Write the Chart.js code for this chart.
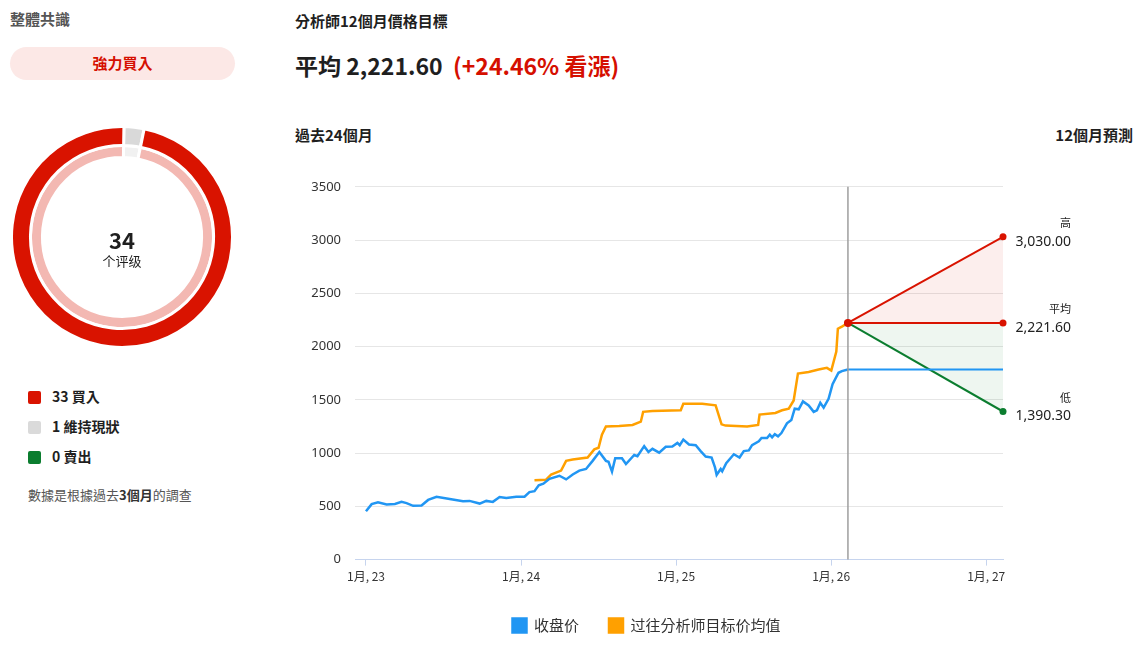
<!DOCTYPE html>
<html><head><meta charset="utf-8">
<script src="https://cdn.jsdelivr.net/npm/chart.js@4"></script>
<style>
body{margin:0;width:1141px;height:649px;background:#fff;font-family:"Noto Sans CJK TC","Noto Sans",sans-serif;position:relative;overflow:hidden;color:#1f1f1f}
.abs{position:absolute}
</style></head><body>
<div class="abs" style="left:10px;top:8px;font-size:15px;font-weight:700;color:#555">整體共識</div>
<div class="abs" style="left:10px;top:47px;width:225px;height:33px;border-radius:17px;background:#fce8e6;color:#d50f00;font-weight:700;font-size:15px;text-align:center;line-height:32px">強力買入</div>
<div class="abs" style="left:10px;top:125px;width:224px;height:224px"><canvas id="d"></canvas></div>
<div class="abs" style="left:72px;top:226px;width:100px;text-align:center;font-size:22px;font-weight:700;line-height:26px">34</div>
<div class="abs" style="left:72px;top:251px;width:100px;text-align:center;font-size:13px;">个评级</div>
<div class="abs" style="left:28px;top:381px;font-size:14px;font-weight:700;line-height:30px">
<div><span style="display:inline-block;width:13px;height:13px;background:#d91300;border-radius:2px;vertical-align:-2px;margin-right:11px"></span>33 買入</div>
<div><span style="display:inline-block;width:13px;height:13px;background:#dadada;border-radius:2px;vertical-align:-2px;margin-right:11px"></span>1 維持現狀</div>
<div><span style="display:inline-block;width:13px;height:13px;background:#0b7d2f;border-radius:2px;vertical-align:-2px;margin-right:11px"></span>0 賣出</div>
</div>
<div class="abs" style="left:28px;top:485px;font-size:13px;color:#555">數據是根據過去<b style="color:#333">3個月</b>的調查</div>

<div class="abs" style="left:295px;top:10px;font-size:15px;font-weight:700">分析師12個月價格目標</div>
<div class="abs" style="left:295px;top:48px;font-size:23px;font-weight:700">平均 2,221.60&nbsp; <span style="color:#d50f00">(+24.46% 看漲)</span></div>
<div class="abs" style="left:295px;top:124px;font-size:15px;font-weight:700">過去24個月</div>
<div class="abs" style="right:8px;top:124px;font-size:15px;font-weight:700">12個月預測</div>
<div class="abs" style="left:290px;top:165px;width:851px;height:484px"><canvas id="c"></canvas></div>
<script>
const ratingLabels=["維持現狀","買入"];
const ratingCounts=[1,33];
const xTickLabels=["1月, 23","1月, 24","1月, 25","1月, 26","1月, 27"];
const xTickMonths=[0,12,24,36,48];
const closeMonths=[0,0.44,0.93,1.6,2.24,2.75,3.14,3.65,4.3,4.81,5.46,6.48,7.51,8.02,8.8,9.31,9.82,10.34,10.86,11.63,12.27,12.65,13.04,13.37,13.73,14.2,14.97,15.49,16,16.51,17.03,17.54,18.06,18.57,18.77,19.04,19.29,19.81,20.12,20.76,21.01,21.53,21.86,22.17,22.69,23.2,23.71,24.1,24.28,24.56,25,25.52,25.9,26.29,26.75,27.01,27.14,27.45,27.57,27.88,28.47,28.91,29.24,29.63,29.88,30.4,30.61,31.04,31.25,31.43,31.64,31.89,32.15,32.58,32.92,33.18,33.49,33.82,34.26,34.65,34.9,35.16,35.42,35.8,36.11,36.57,36.83,37.3];
const closeValues=[453,521,539,517,523,542,530,505,508,560,590,569,548,551,526,551,542,588,578,590,590,634,643,698,713,759,787,753,799,836,851,927,1010,927,918,826,952,952,897,982,970,1065,1010,1040,1004,1059,1062,1096,1074,1127,1081,1074,1019,967,958,866,796,851,829,906,989,958,1019,1025,1074,1111,1142,1142,1173,1148,1178,1157,1188,1279,1310,1417,1411,1485,1448,1387,1402,1472,1426,1509,1646,1754,1770,1785];
const targetMonths=[13.04,13.94,14.33,15.1,15.49,16,17.15,17.67,18,18.26,18.57,19.6,20.63,21.27,21.45,22.17,24.36,24.56,26.02,27.06,27.52,27.83,29.5,30.35,30.46,31.69,32.2,32.72,33.1,33.43,34.26,35.03,35.67,36.01,36.4,36.52,36.83,37.3];
const targetValues=[744,750,799,836,927,939,958,1035,1050,1173,1249,1255,1264,1295,1387,1396,1402,1463,1463,1448,1270,1258,1249,1264,1362,1377,1402,1417,1494,1747,1761,1785,1800,1775,1953,2167,2188,2221.6];
const nowMonth=37.3, endMonth=49.3;
const lastClose=1785;
const forecastHigh=3030.00, forecastAvg=2221.60, forecastLow=1390.30;

new Chart(document.getElementById('d'),{type:'doughnut',
data:{labels:ratingLabels,datasets:[
{data:ratingCounts,backgroundColor:['#d9d9d9','#d91300'],borderColor:'#fff',borderWidth:3,weight:19},
{data:ratingCounts,backgroundColor:['#f1f1f1','#f3b8b2'],borderColor:'#fff',borderWidth:3,weight:12}]},
options:{responsive:true,maintainAspectRatio:false,animation:false,cutout:'72%',rotation:1,plugins:{legend:{display:false},tooltip:{enabled:false}}}});

const pts=(xs,ys)=>xs.map((x,i)=>({x,y:ys[i]}));
const fmt=v=>v.toLocaleString('en-US',{minimumFractionDigits:2,maximumFractionDigits:2});
const endLabels={id:'endLabels',afterDatasetsDraw(ch){
 const {ctx,scales:{x,y},chartArea}=ch;
 ctx.save();
 const px=x.getPixelForValue(nowMonth);
 ctx.strokeStyle='#9e9e9e';ctx.lineWidth=1.5;ctx.beginPath();ctx.moveTo(px,chartArea.top);ctx.lineTo(px,chartArea.bottom);ctx.stroke();
 [[forecastHigh,'高','#d91300'],[forecastAvg,'平均','#d91300'],[forecastLow,'低','#0b7d2f']].forEach(([v,l,c])=>{
  const ex=x.getPixelForValue(endMonth),ey=y.getPixelForValue(v);
  ctx.fillStyle=c;ctx.beginPath();ctx.arc(ex,ey,3.5,0,7);ctx.fill();
  ctx.fillStyle='#222';ctx.textAlign='right';ctx.font='11px "Noto Sans CJK TC"';ctx.fillText(l,ex+68,ey-14);
  ctx.font='14px "Noto Sans","Noto Sans CJK TC"';ctx.fillText(fmt(v),ex+68,ey+5);
 });
 ctx.fillStyle='#d91300';ctx.beginPath();ctx.arc(px,y.getPixelForValue(forecastAvg),4,0,7);ctx.fill();
 ctx.restore();}};

new Chart(document.getElementById('c'),{type:'line',
data:{datasets:[
{label:'收盘价',data:pts(closeMonths,closeValues),borderColor:'#2196f3',backgroundColor:'#2196f3',borderWidth:2.5,pointRadius:0,tension:0},
{label:'过往分析师目标价均值',data:pts(targetMonths,targetValues),borderColor:'#ffa000',backgroundColor:'#ffa000',borderWidth:2.5,pointRadius:0,tension:0},
{label:'f',data:[{x:nowMonth,y:lastClose},{x:endMonth,y:lastClose}],borderColor:'#2196f3',borderWidth:2,pointRadius:0},
{label:'h',data:[{x:nowMonth,y:forecastAvg},{x:endMonth,y:forecastHigh}],borderColor:'#d91300',borderWidth:2,pointRadius:0,fill:'+1',backgroundColor:'rgba(217,19,0,0.07)'},
{label:'a',data:[{x:nowMonth,y:forecastAvg},{x:endMonth,y:forecastAvg}],borderColor:'#d91300',borderWidth:2,pointRadius:0},
{label:'l',data:[{x:nowMonth,y:forecastAvg},{x:endMonth,y:forecastLow}],borderColor:'#0b7d2f',borderWidth:2,pointRadius:0,fill:'-1',backgroundColor:'rgba(11,125,47,0.07)'}
]},
options:{responsive:true,maintainAspectRatio:false,animation:false,
layout:{padding:{left:0,right:138,top:6,bottom:6}},
scales:{
x:{type:'linear',min:-0.85,max:endMonth,afterBuildTicks(a){a.ticks=xTickMonths.map(v=>({value:v}));},
 ticks:{callback:(v)=>xTickLabels[xTickMonths.indexOf(v)],color:'#333',font:{size:12,family:'Noto Sans CJK TC'},maxRotation:0,padding:4},
 grid:{display:true,drawOnChartArea:false,drawTicks:true,tickLength:6,color:'#c6d4ee'},border:{color:'#c6d4ee'}},
y:{min:0,max:3500,ticks:{stepSize:500,callback:v=>String(v),color:'#333',font:{size:13,family:'Noto Sans'},padding:14},grid:{color:'#e6e6e6',drawTicks:false},border:{display:false},afterFit(s){s.width=65;}}
},
plugins:{tooltip:{enabled:false},legend:{position:'bottom',labels:{filter:i=>i.datasetIndex<2,boxWidth:14,boxHeight:14,padding:30,color:'#333',font:{size:15,family:'Noto Sans CJK TC'}}}}},
plugins:[endLabels]});
</script></body></html>
